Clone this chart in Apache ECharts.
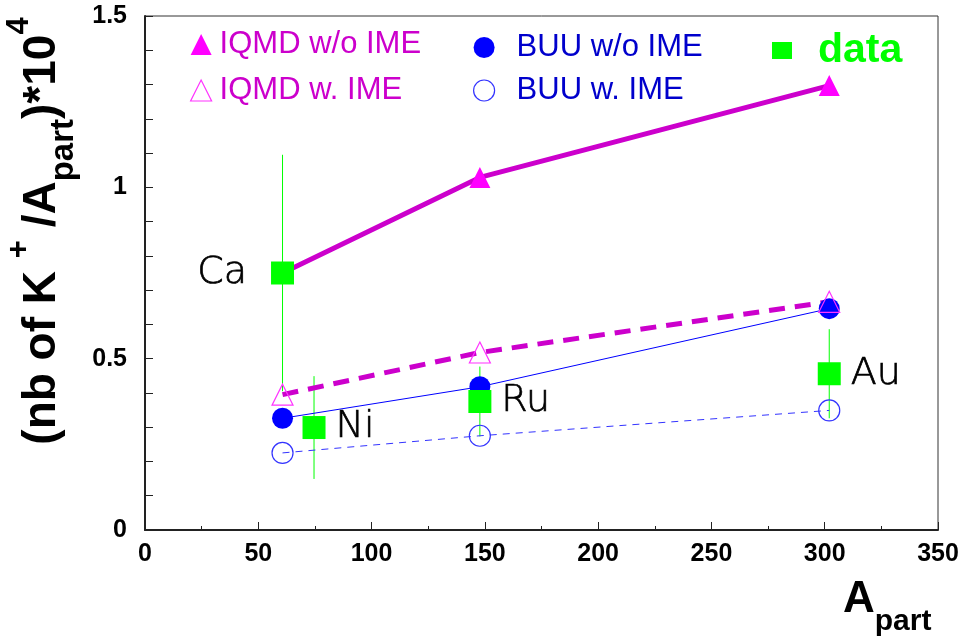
<!DOCTYPE html>
<html>
<head>
<meta charset="utf-8">
<script src="https://cdn.jsdelivr.net/npm/echarts@6/dist/echarts.min.js"></script>
<style>
html,body{margin:0;padding:0;background:#fff;}
#c{width:963px;height:637px;}
</style>
</head>
<body>
<div id="c"></div>
<script>
// ---- data ----
const modelX = [60.7, 147.8, 302];          // A_part of Ca, Ru, Au systems (models)
const iqmdNoIME = [0.750, 1.029, 1.297];
const iqmdIME   = [0.395, 0.518, 0.666];
const buuNoIME  = [0.326, 0.418, 0.646];
const buuIME    = [0.225, 0.275, 0.349];
const dataX   = [60.7, 74.6, 147.8, 302];   // Ca, Ni, Ru, Au
const dataY   = [0.750, 0.299, 0.375, 0.456];
const dataErr = [0.345, 0.150, 0.102, 0.130];
const systems = ['Ca', 'Ni', 'Ru', 'Au'];
const xTicks = { min: 0, max: 350, step: 50 };
const yTicks = { min: 0, max: 1.5, step: 0.5 };

const pair = (xs, ys) => xs.map((x, i) => [x, ys[i]]);

const FONT = 'Liberation Sans';
const MAG_LINE = '#cc00cc', MAG_MARK = '#ff00ff', MAG_OPEN = '#ff33ff';
const BLUE = '#0000ff', BLUE_TXT = '#0000cc', BLUE_OPEN = '#3333ff';
const GREEN = '#00ff00';

const chart = echarts.init(document.getElementById('c'), null, {renderer: 'canvas'});

const axisCommon = {
  axisLine: { show: true, lineStyle: { color: '#222', width: 2 } },
  axisTick: { show: true, inside: true, length: 8, lineStyle: { color: '#222', width: 1 } },
  splitLine: { show: false },
  axisLabel: { fontFamily: FONT, fontWeight: 'bold', fontSize: 25, color: '#000' }
};

const option = {
  animation: false,
  backgroundColor: '#fff',
  grid: { left: 145, right: 25, top: 16, bottom: 107, show: true, borderColor: '#333', borderWidth: 1 },
  xAxis: Object.assign({}, axisCommon, {
    type: 'value', min: xTicks.min, max: xTicks.max, interval: xTicks.step,
    minorTick: { show: true, splitNumber: 2, length: 4, lineStyle: { color: '#222', width: 1 } },
    axisLabel: Object.assign({}, axisCommon.axisLabel, { margin: 12 })
  }),
  yAxis: Object.assign({}, axisCommon, {
    type: 'value', min: yTicks.min, max: yTicks.max, interval: yTicks.step,
    minorTick: { show: true, splitNumber: 5, length: 8, lineStyle: { color: '#222', width: 1 } },
    axisLabel: Object.assign({}, axisCommon.axisLabel, { margin: 18 })
  }),
  legend: [
    {
      left: 185, top: 24, orient: 'vertical', itemGap: 15, itemWidth: 21, itemHeight: 21,
      selectedMode: false,
      textStyle: { fontFamily: FONT, fontSize: 31, lineHeight: 31, color: MAG_LINE, padding: [0, 0, 0, 3] },
      data: [
        { name: 'IQMD w/o IME', icon: 'triangle', itemStyle: { color: MAG_MARK, borderWidth: 0, opacity: 1 } },
        { name: 'IQMD w. IME', icon: 'triangle', itemStyle: { color: 'rgba(0,0,0,0)', borderColor: MAG_OPEN, borderWidth: 1.2 } }
      ]
    },
    {
      left: 468, top: 27, orient: 'vertical', itemGap: 12, itemWidth: 21, itemHeight: 21,
      selectedMode: false,
      textStyle: { fontFamily: FONT, fontSize: 31, lineHeight: 31, color: BLUE_TXT, padding: [0, 0, 0, 17] },
      data: [
        { name: 'BUU w/o IME', icon: 'circle', itemStyle: { color: BLUE, borderWidth: 0 } },
        { name: 'BUU w. IME', icon: 'circle', itemStyle: { color: 'rgba(0,0,0,0)', borderColor: BLUE_OPEN, borderWidth: 1.2 } }
      ]
    },
    {
      left: 767, top: 25, orient: 'vertical', itemWidth: 20, itemHeight: 17,
      selectedMode: false,
      textStyle: { fontFamily: FONT, fontSize: 41, fontWeight: 'bold', lineHeight: 41, color: GREEN, padding: [0, 0, 0, 21] },
      data: [ { name: 'data', icon: 'rect', itemStyle: { color: GREEN, borderWidth: 0, opacity: 1 } } ]
    }
  ],
  graphic: [
    {
      type: 'text', x: 42, y: 231, rotation: Math.PI / 2,
      style: {
        text: '{m|(nb of K }{sp|+}{m| /A}{sb|part}{m|)*10}{sp|4}',
        align: 'center', verticalAlign: 'middle', fill: '#000',
        rich: {
          m:  { fontFamily: FONT, fontWeight: 'bold', fontSize: 46, lineHeight: 76, verticalAlign: 'middle', fill: '#000' },
          sp: { fontFamily: FONT, fontWeight: 'bold', fontSize: 31, lineHeight: 31, verticalAlign: 'top', fill: '#000' },
          sb: { fontFamily: FONT, fontWeight: 'bold', fontSize: 33, lineHeight: 37, verticalAlign: 'bottom', fill: '#000' }
        }
      }
    },
    {
      type: 'text', x: 843, y: 600,
      style: {
        text: '{a|A}{s|part}',
        align: 'left', verticalAlign: 'middle', fill: '#000',
        rich: {
          a: { fontFamily: FONT, fontWeight: 'bold', fontSize: 44, lineHeight: 74, verticalAlign: 'middle', fill: '#000' },
          s: { fontFamily: FONT, fontWeight: 'bold', fontSize: 30, lineHeight: 30, verticalAlign: 'bottom', fill: '#000' }
        }
      }
    }
  ],
  series: [
    {
      name: 'BUU w. IME', type: 'line', data: pair(modelX, buuIME),
      symbol: 'circle', symbolSize: 21, showSymbol: true,
      itemStyle: { color: 'rgba(0,0,0,0)', borderColor: BLUE_OPEN, borderWidth: 1.2 },
      lineStyle: { color: BLUE_OPEN, width: 1, type: [7, 6] },
      z: 2
    },
    {
      name: 'BUU w/o IME', type: 'line', data: pair(modelX, buuNoIME),
      symbol: 'circle', symbolSize: 21, showSymbol: true,
      itemStyle: { color: BLUE, borderWidth: 0, opacity: 1 },
      lineStyle: { color: BLUE, width: 1 },
      z: 2
    },
    {
      name: 'IQMD w. IME', type: 'line', data: pair(modelX, iqmdIME),
      symbol: 'triangle', symbolSize: 21, showSymbol: true,
      itemStyle: { color: 'rgba(0,0,0,0)', borderColor: MAG_OPEN, borderWidth: 1.2 },
      lineStyle: { color: MAG_LINE, width: 5, type: [16, 10] },
      z: 2
    },
    {
      name: 'IQMD w/o IME', type: 'scatter', data: pair(modelX, iqmdNoIME),
      symbol: 'triangle', symbolSize: 21,
      itemStyle: { color: MAG_MARK, opacity: 1 },
      z: 2
    },
    {
      name: 'data', type: 'custom',
      data: dataX.map((x, i) => [x, dataY[i], dataErr[i]]),
      renderItem: function (params, api) {
        const x = api.value(0), y = api.value(1), e = api.value(2);
        const p1 = api.coord([x, y - e]);
        const p2 = api.coord([x, y + e]);
        return { type: 'line', shape: { x1: p1[0], y1: p1[1], x2: p2[0], y2: p2[1] },
                 style: { stroke: GREEN, lineWidth: 1 } };
      },
      z: 2
    },
    {
      name: 'data', type: 'scatter',
      data: dataX.map((x, i) => ({ value: [x, dataY[i]], label: { position: i === 0 ? 'left' : 'right', distance: i === 0 ? 24 : 10 } })),
      symbol: 'rect', symbolSize: 23,
      itemStyle: { color: GREEN, opacity: 1 },
      label: {
        show: true,
        formatter: (p) => systems[p.dataIndex],
        fontFamily: 'DejaVu Sans', fontWeight: 200, fontSize: 38, color: '#000',
        textBorderColor: '#000', textBorderWidth: 0.7
      },
      z: 2
    },
    {
      name: 'IQMD w/o IME', type: 'line', data: pair(modelX, iqmdNoIME),
      symbol: 'none', showSymbol: false,
      lineStyle: { color: MAG_LINE, width: 5 },
      z: 2
    }
  ]
};
chart.setOption(option);
</script>
</body>
</html>
